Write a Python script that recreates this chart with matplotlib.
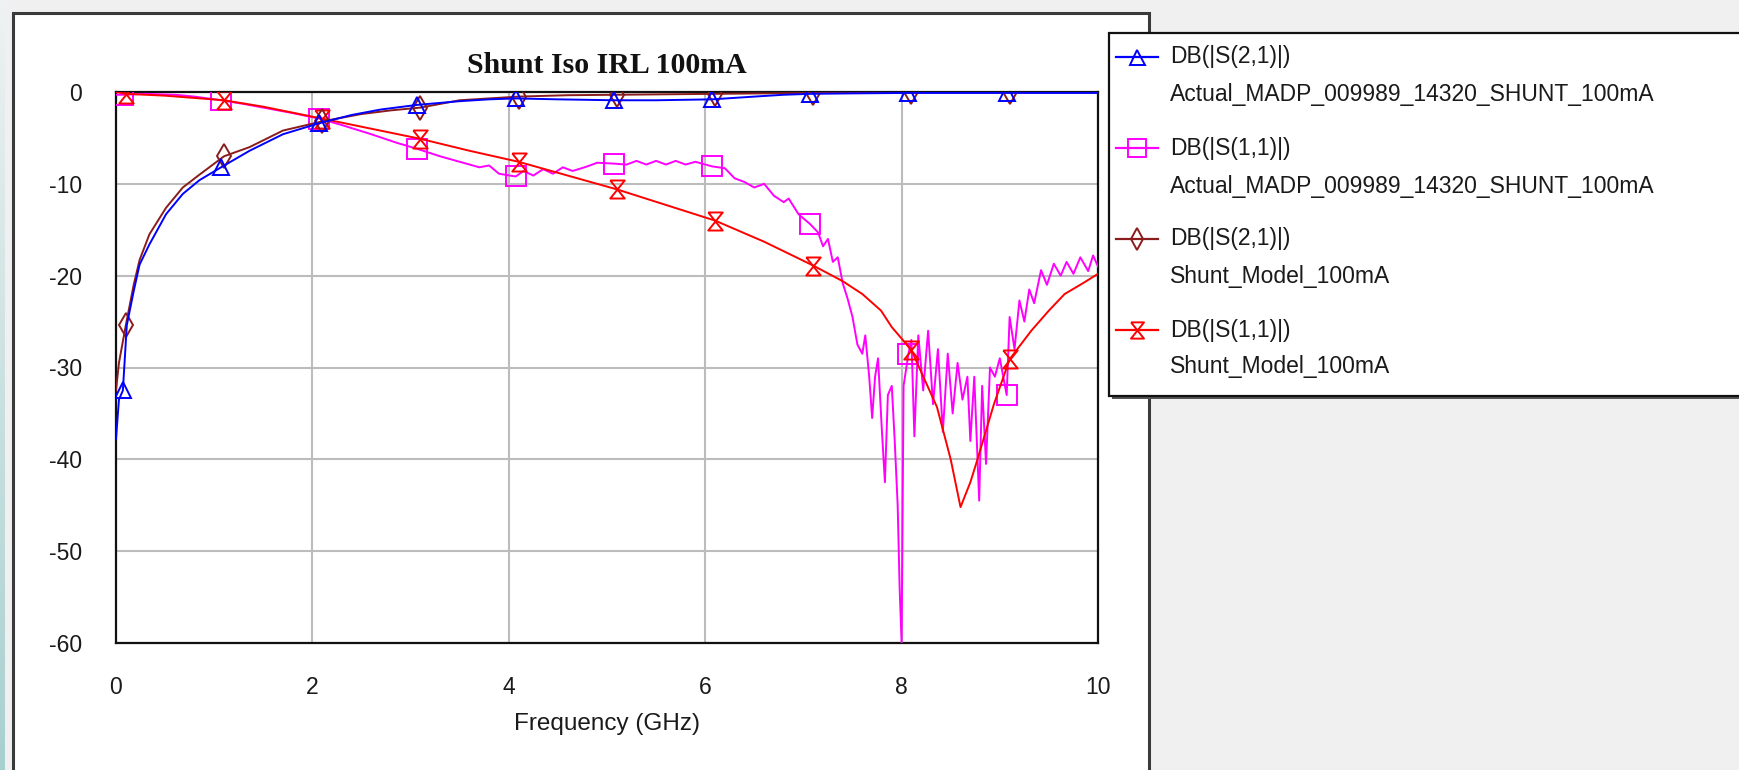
import numpy as np
import matplotlib
matplotlib.use("Agg")
import matplotlib.pyplot as plt
from matplotlib.patches import Rectangle
from matplotlib.lines import Line2D
from matplotlib.path import Path
from matplotlib.colors import LinearSegmentedColormap

# ---------------- data ----------------
title = "Shunt Iso IRL 100mA"
x_label = "Frequency (GHz)"
x_ticks = [0, 2, 4, 6, 8, 10]
y_ticks = [0, -10, -20, -30, -40, -50, -60]

legend_line1 = ["DB(|S(2,1)|)", "DB(|S(1,1)|)", "DB(|S(2,1)|)", "DB(|S(1,1)|)"]
legend_line2 = ["Actual_MADP_009989_14320_SHUNT_100mA",
                "Actual_MADP_009989_14320_SHUNT_100mA",
                "Shunt_Model_100mA",
                "Shunt_Model_100mA"]

marker_freq_actual = [0.07, 1.07, 2.07, 3.07, 4.07, 5.07, 6.07, 7.07, 8.07, 9.07]
marker_freq_model = [0.1, 1.1, 2.1, 3.1, 4.1, 5.1, 6.1, 7.1, 8.1, 9.1]

# DB(|S(2,1)|) Actual (blue)
s21_act_f = [0.0, 0.03, 0.07, 0.11, 0.18, 0.24, 0.34, 0.51, 0.68, 0.85, 1.07, 1.36, 1.7,
             2.07, 2.4, 2.7, 3.07, 3.5, 3.8, 4.07, 4.5, 5.07, 5.5, 6.07, 6.5, 6.8, 7.07,
             7.5, 8.07, 8.5, 9.07, 9.5, 10.0]
s21_act_db = [-37.8, -33.5, -32.5, -25.4, -21.7, -18.8, -16.6, -13.3, -11.1, -9.6, -8.2, -6.4, -4.6,
              -3.4, -2.5, -1.9, -1.4, -1.0, -0.8, -0.7, -0.8, -0.9, -0.9, -0.8, -0.5, -0.3, -0.2,
              -0.15, -0.1, -0.1, -0.1, -0.1, -0.1]

# DB(|S(1,1)|) Actual (magenta)
s11_act_f = [0.0, 0.07, 0.3, 0.6, 0.8, 1.07, 1.3, 1.5, 1.8, 2.07, 2.3, 2.6, 2.85, 3.07, 3.3,
             3.5, 3.7, 3.8, 3.9, 4.07, 4.15, 4.25, 4.35, 4.45, 4.55, 4.65, 4.8, 4.9, 5.07,
             5.2, 5.3, 5.4, 5.5, 5.6, 5.7, 5.8, 5.9, 6.07, 6.2, 6.3, 6.4, 6.5, 6.6, 6.7,
             6.8, 6.85, 6.95, 7.07, 7.15, 7.2, 7.25, 7.3, 7.35, 7.4, 7.45, 7.5, 7.55, 7.6,
             7.63, 7.67, 7.7, 7.73, 7.76, 7.8, 7.83, 7.86, 7.9, 7.93, 7.96, 7.98, 8.0, 8.02,
             8.07, 8.1, 8.13, 8.17, 8.22, 8.27, 8.32, 8.37, 8.42, 8.47, 8.52, 8.57, 8.62,
             8.67, 8.7, 8.74, 8.79, 8.82, 8.86, 8.9, 8.95, 9.0, 9.07, 9.1, 9.15, 9.2, 9.25,
             9.3, 9.35, 9.42, 9.48, 9.55, 9.62, 9.68, 9.75, 9.82, 9.9, 9.95, 10.0]
s11_act_db = [-0.3, -0.3, -0.2, -0.3, -0.5, -0.9, -1.3, -1.7, -2.3, -2.9, -3.6, -4.6, -5.5, -6.2, -7.0,
              -7.6, -8.2, -8.0, -8.9, -9.2, -8.6, -9.1, -8.4, -8.9, -8.2, -8.6, -8.1, -7.7, -7.8,
              -7.9, -7.5, -7.9, -7.5, -7.9, -7.5, -7.9, -7.6, -8.1, -8.3, -9.4, -9.8, -10.4, -10.0, -11.3,
              -12.0, -11.6, -13.3, -14.4, -15.3, -16.8, -16.0, -18.5, -18.0, -20.8, -22.5, -24.5, -27.5, -28.5,
              -26.5, -31.0, -35.5, -31.0, -29.0, -37.0, -42.5, -33.0, -32.0, -38.0, -45.0, -54.0, -60.0, -32.0,
              -28.5, -27.0, -37.5, -26.5, -32.5, -26.0, -34.0, -28.0, -37.0, -28.5, -35.0, -29.5, -33.5,
              -31.0, -38.0, -31.0, -44.5, -32.0, -40.5, -30.0, -31.0, -29.0, -33.0, -24.5, -28.0, -22.7, -25.0,
              -21.5, -23.0, -19.4, -21.0, -18.7, -20.0, -18.5, -19.8, -18.0, -19.5, -17.8, -19.0]

# DB(|S(2,1)|) Shunt model (brown)
s21_mod_f = [0.0, 0.03, 0.1, 0.18, 0.24, 0.34, 0.51, 0.68, 0.85, 1.1, 1.36, 1.7, 2.1, 2.5, 2.8,
             3.1, 3.5, 4.1, 4.6, 5.1, 6.1, 7.1, 8.1, 9.1, 10.0]
s21_mod_db = [-32.5, -29.5, -25.4, -21.0, -18.3, -15.5, -12.6, -10.4, -9.0, -7.0, -6.0, -4.2, -3.2, -2.4, -2.0,
              -1.7, -0.9, -0.5, -0.35, -0.3, -0.2, -0.1, -0.05, -0.05, -0.05]

# DB(|S(1,1)|) Shunt model (red)
s11_mod_f = [0.0, 0.1, 0.5, 1.1, 1.5, 2.1, 2.6, 3.1, 3.6, 4.1, 4.6, 5.1, 5.6, 6.1, 6.6, 7.1, 7.4,
             7.6, 7.79, 7.9, 8.1, 8.2, 8.36, 8.5, 8.6, 8.7, 8.77, 8.94, 9.1, 9.32, 9.5, 9.66, 9.85, 10.0]
s11_mod_db = [0.0, -0.2, -0.4, -0.9, -1.6, -2.9, -4.0, -5.1, -6.4, -7.6, -9.1, -10.6, -12.3, -14.0, -16.3,
              -18.9, -20.6, -22.0, -23.8, -25.6, -28.1, -30.5, -34.3, -40.0, -45.2, -42.5, -40.1, -34.0,
              -29.1, -26.0, -23.8, -22.0, -20.8, -19.8]

# ---------------- styling ----------------
W, H = 1739, 770
SANS = ["Liberation Sans", "DejaVu Sans"]
TXT = "#1a1a1a"

hourglass = Path([(-0.8, 1.0), (0.8, 1.0), (-0.8, -1.0), (0.8, -1.0), (-0.8, 1.0)],
                 [Path.MOVETO, Path.LINETO, Path.LINETO, Path.LINETO, Path.LINETO])

series = [
    # (freq, db, marker freqs, color, marker, markersize, zorder)
    (s11_act_f, s11_act_db, marker_freq_actual, "#ff00ff", "s", 14, 3),
    (s11_mod_f, s11_mod_db, marker_freq_model, "#ff0000", hourglass, 13, 4),
    (s21_mod_f, s21_mod_db, marker_freq_model, "#8a1c1c", "d", 12, 5),
    (s21_act_f, s21_act_db, marker_freq_actual, "#0000ff", "^", 12, 6),
]
legend_style = [series[3], series[0], series[2], series[1]]


def fx(x):
    return x / W


def fy(y):
    return 1 - y / H


fig = plt.figure(figsize=(W / 100, H / 100), dpi=100, facecolor="#f0f0f0")

# left teal strip
strip = fig.add_axes([0, 0, 5 / W, 1])
grad = np.linspace(0, 1, 256).reshape(-1, 1)
cm = LinearSegmentedColormap.from_list("strip", ["#eef2f2", "#a8d0cf"])
strip.imshow(grad, aspect="auto", cmap=cm, extent=[0, 1, 0, 1], origin="upper")
strip.set_axis_off()

# white panel
panel = Rectangle((fx(12.5), -0.1), fx(1148.5 - 12.5), fy(13.5) + 0.1,
                  transform=fig.transFigure, facecolor="white", edgecolor="#3a3a3a",
                  lw=2.2, zorder=0)
fig.add_artist(panel)

ax = fig.add_axes([fx(116), fy(643), fx(1098 - 116), (643 - 92) / H])
ax.set_facecolor("white")
for f, d, mk, c, m, ms, z in series:
    f = np.asarray(f)
    idx = [i for i, v in enumerate(f) if np.any(np.isclose(v, mk))]
    ax.plot(f, d, color=c, lw=1.4, marker=m, markersize=ms, markevery=idx,
            mfc="none", mec=c, mew=1.4, zorder=z)

ax.set_xlim(0, 10)
ax.set_ylim(-60, 0)
ax.set_xticks(x_ticks)
ax.set_yticks(y_ticks)
ax.set_xticklabels([str(v) for v in x_ticks], family=SANS, fontsize=16.5, color=TXT)
ax.set_yticklabels([str(v) for v in y_ticks], family=SANS, fontsize=16.5, color=TXT)
ax.tick_params(axis="x", length=0, pad=23.5)
ax.tick_params(axis="y", length=0, pad=24.5)
ax.grid(True, color="#bcbcbc", lw=1.5)
ax.set_axisbelow(True)
for s in ax.spines.values():
    s.set_color("#111111")
    s.set_linewidth(1.6)
ax.set_xlabel(x_label, family=SANS, fontsize=17.5, color=TXT, labelpad=10)
ax.set_title(title, family=["Liberation Serif", "DejaVu Serif"], fontweight="bold",
             fontsize=21.5, color="#111111", pad=13.5)

# legend box (custom, AWR style)
shadow = Rectangle((fx(1112), fy(399)), fx(700), (399 - 37) / H, transform=fig.transFigure,
                   facecolor="#555555", edgecolor="none", zorder=10)
box = Rectangle((fx(1108.5), fy(395.5)), fx(700), (395.5 - 33.5) / H, transform=fig.transFigure,
                facecolor="white", edgecolor="#111111", lw=1.6, zorder=11)
fig.add_artist(shadow)
fig.add_artist(box)

row_y1 = [57, 148, 239, 330]
row_y2 = [94, 186, 277, 367]
for k in range(4):
    f, d, mk, c, m, ms, z = legend_style[k]
    y = row_y1[k]
    ln = Line2D([fx(1116), fx(1137), fx(1158)], [fy(y)] * 3, transform=fig.transFigure,
                color=c, lw=1.6, marker=m, markersize=ms * 0.9, markevery=[1],
                mfc="none", mec=c, mew=1.4, zorder=12)
    fig.add_artist(ln)
    fig.text(fx(1170), fy(y), legend_line1[k], ha="left", va="center", family=SANS,
             fontsize=16.5, color=TXT, zorder=12)
    fig.text(fx(1170), fy(row_y2[k]), legend_line2[k], ha="left", va="center", family=SANS,
             fontsize=16.5, color=TXT, zorder=12)

fig.savefig("out.png", dpi=100, facecolor=fig.get_facecolor())
